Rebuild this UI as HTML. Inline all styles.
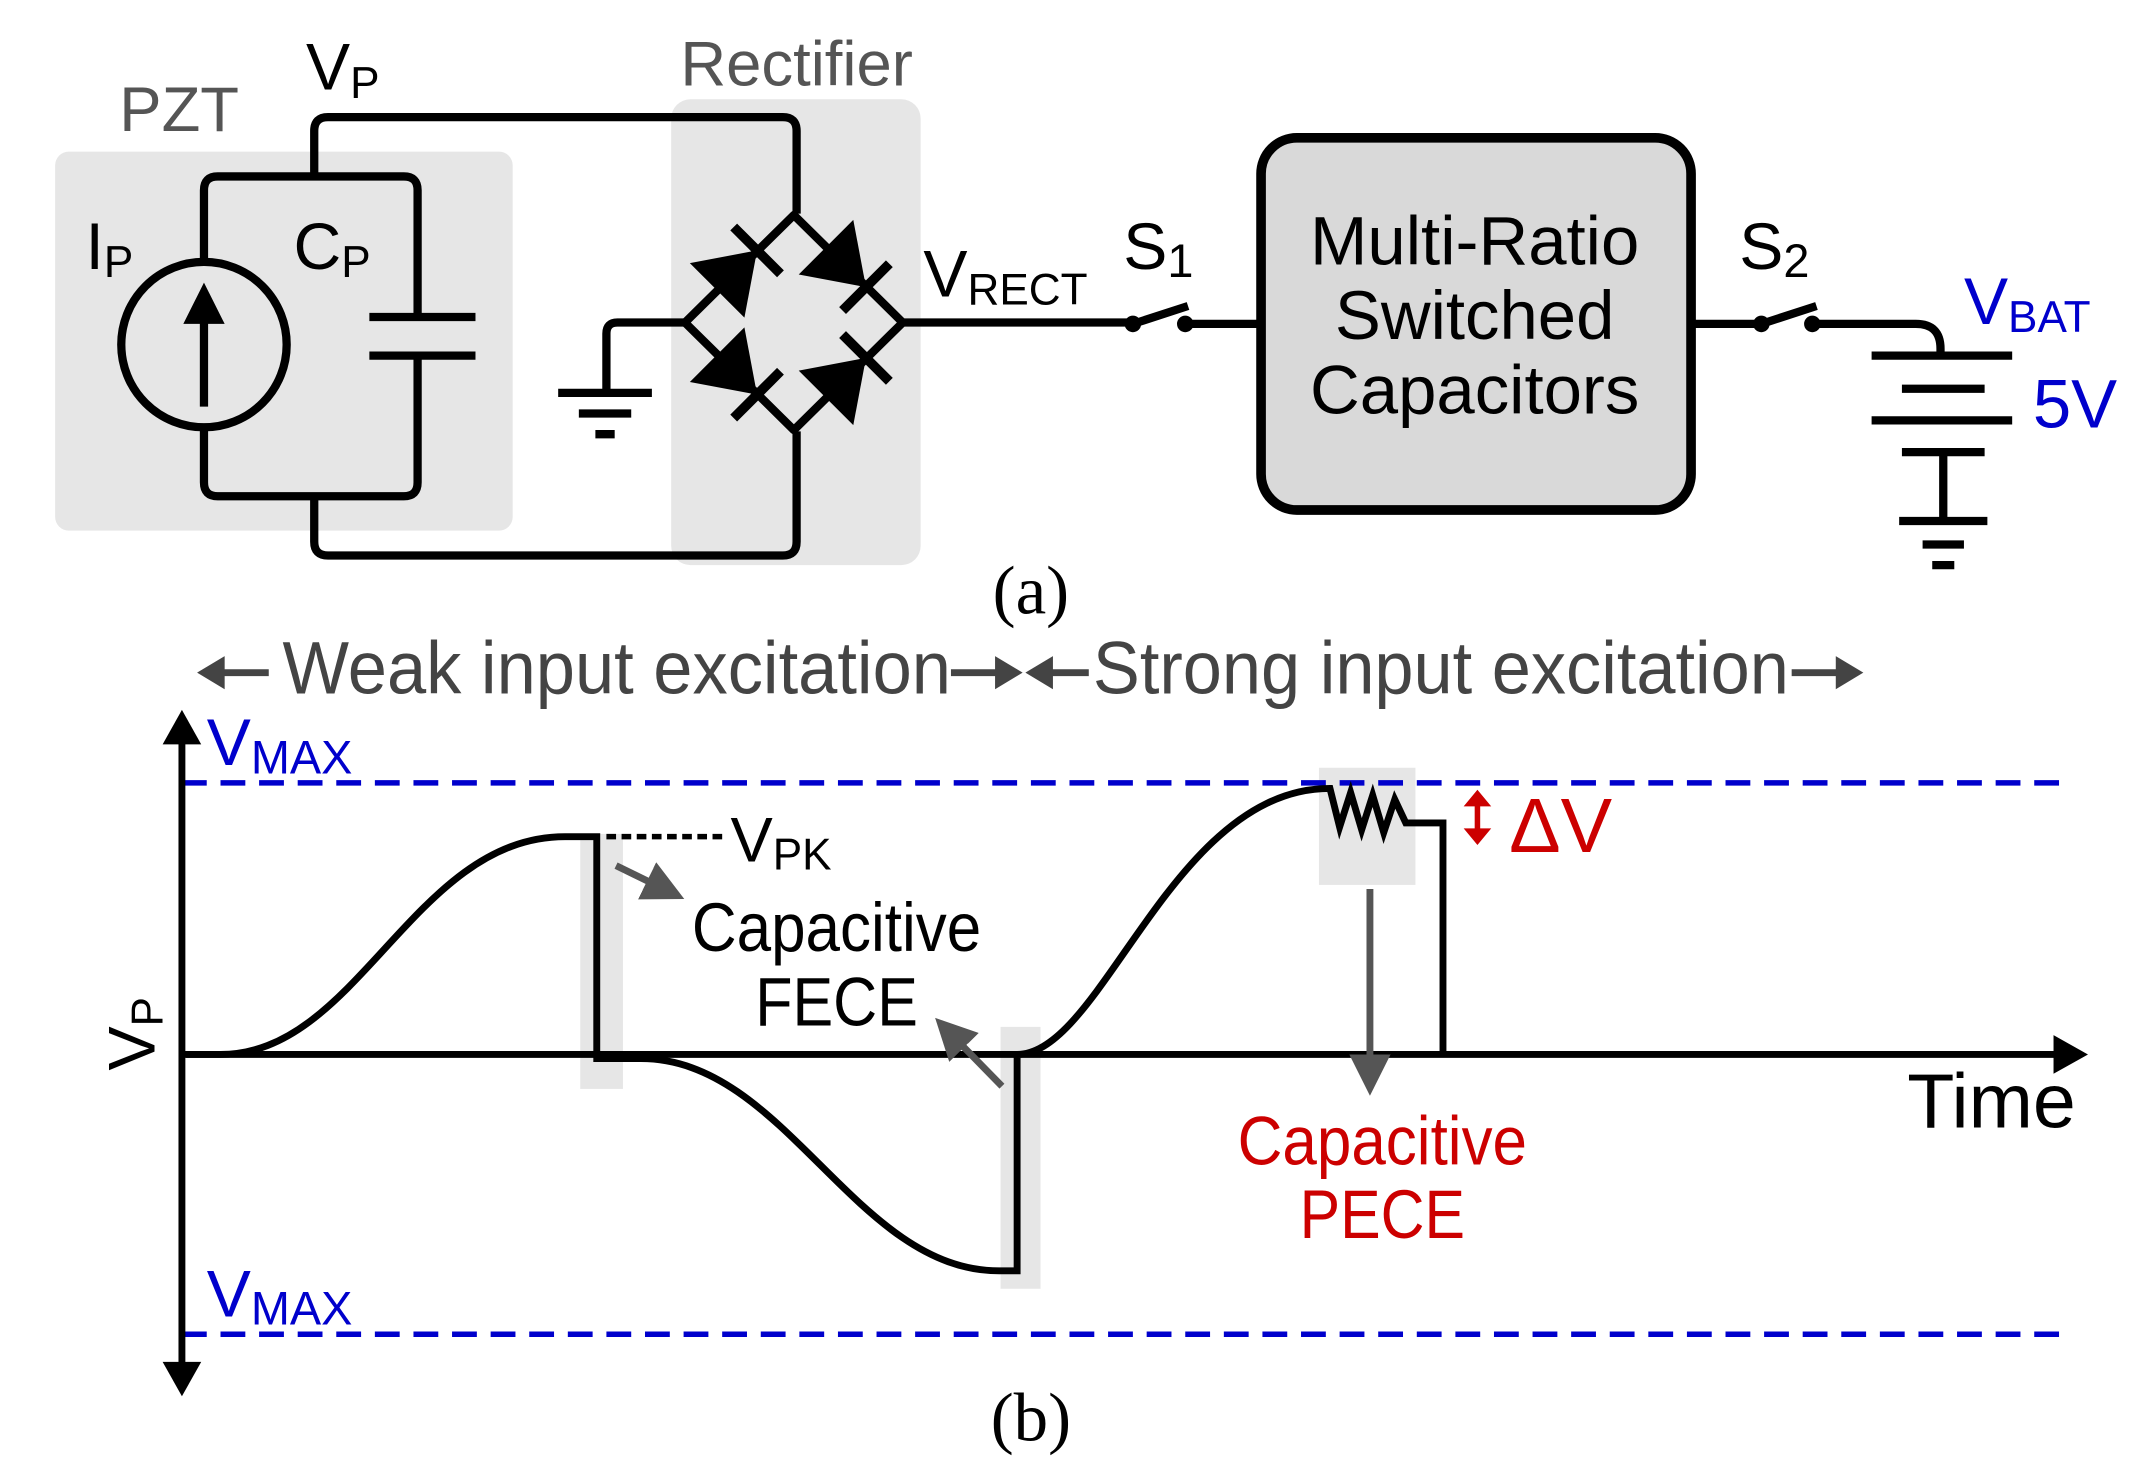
<!DOCTYPE html>
<html><head><style>html,body{margin:0;padding:0;background:#fff}svg{display:block}</style></head><body>
<svg width="2150" height="1479" viewBox="0 0 1560 1073" preserveAspectRatio="none" xmlns="http://www.w3.org/2000/svg" font-family="Liberation Sans, sans-serif">
<defs>
<marker id="ga" markerWidth="6" markerHeight="6" refX="5" refY="3" orient="auto" markerUnits="strokeWidth"><path d="M0,0 L6,3 L0,6 z" fill="#555"/></marker>
<g id="dio"><path d="M33,-28 L33,28 L74,0 Z" fill="#000"/><path d="M74,-24 V24" stroke="#000" stroke-width="7"/></g>
</defs>
<rect x="40" y="110" width="332" height="275" rx="10" fill="#e6e6e6"/>
<rect x="487" y="72" width="181" height="338" rx="14" fill="#e6e6e6"/>
<text x="130" y="95" font-size="46" fill="#555" text-anchor="middle">PZT</text>
<text x="578" y="62" font-size="46" fill="#555" text-anchor="middle">Rectifier</text>
<text x="222" y="65" font-size="48">V<tspan font-size="32" dy="6">P</tspan></text>
<text x="62" y="195" font-size="48">I<tspan font-size="32" dy="6">P</tspan></text>
<text x="213" y="195" font-size="48">C<tspan font-size="32" dy="6">P</tspan></text>
<g fill="none" stroke="#000" stroke-width="6" stroke-linejoin="round">
<path d="M228,128 V95 Q228,85 238,85 H568 Q578,85 578,95 V155"/>
<path d="M148,190 V138 Q148,128 158,128 H293 Q303,128 303,138 V230"/>
<path d="M303,258 V350 Q303,360 293,360 H158 Q148,360 148,350 V310"/>
<path d="M228,360 V393 Q228,403 238,403 H568 Q578,403 578,393 V313"/>
<path d="M268,230 H345 M268,258 H345"/>
<circle cx="148" cy="250" r="60"/>
<path d="M148,295 V215"/>
<path d="M576,156 L655,234 L576,312 L497,234 Z"/>
<path d="M497,234 H448 Q440,234 440,242 V283 M405,285 H473 M420,300 H458 M432,315 H446"/>
<path d="M655,234 H822 M822,235 L862,222 M860,235 H912"/>
<rect x="915" y="100" width="312" height="270" rx="26" fill="#d9d9d9" stroke-width="7"/>
<path d="M1227,235 H1278 M1278,235 L1318,222 M1315,235 H1390 Q1408,235 1408,253 V258"/>
<path d="M1358,258 H1460 M1380,282 H1440 M1358,305 H1460 M1380,328 H1440 M1410,328 V378 M1378,378 H1442 M1395,395 H1425 M1402,410 H1418"/>
</g>
<path d="M148,205 L133,235 H163 Z" fill="#000"/>
<use href="#dio" transform="translate(497,234) rotate(-45)"/>
<use href="#dio" transform="translate(576,156) rotate(45)"/>
<use href="#dio" transform="translate(497,234) rotate(45)"/>
<use href="#dio" transform="translate(576,312) rotate(-45)"/>
<g fill="#000">
<circle cx="822" cy="235" r="6"/><circle cx="860" cy="235" r="6"/>
<circle cx="1278" cy="235" r="6"/><circle cx="1315" cy="235" r="6"/>
</g>
<text x="815" y="195" font-size="48">S<tspan font-size="34" dy="6">1</tspan></text>
<text x="1262" y="195" font-size="48">S<tspan font-size="34" dy="6">2</tspan></text>
<text x="670" y="215" font-size="48">V<tspan font-size="32" dy="6">RECT</tspan></text>
<g font-size="50" text-anchor="middle"><text x="1070" y="192">Multi-Ratio</text><text x="1070" y="246">Switched</text><text x="1070" y="300">Capacitors</text></g>
<text x="1425" y="235" font-size="48" fill="#0000cc">V<tspan font-size="32" dy="6">BAT</tspan></text>
<text x="1475" y="310" font-size="50" fill="#0000cc">5V</text>
<text x="748" y="445" font-size="50" font-family="Liberation Serif, serif" text-anchor="middle">(a)</text>
<text x="748" y="1045" font-size="50" font-family="Liberation Serif, serif" text-anchor="middle">(b)</text>
<g font-family="Liberation Sans Narrow, Liberation Sans, sans-serif" fill="#444" font-size="54">
<text x="205" y="503" textLength="485" lengthAdjust="spacingAndGlyphs">Weak input excitation</text>
<text x="793" y="503" textLength="505" lengthAdjust="spacingAndGlyphs">Strong input excitation</text>
</g>
<g stroke="#444" stroke-width="5" fill="#444">
<path d="M148,488 H195"/><path d="M143,488 L163,476 V500 Z" stroke="none"/>
<path d="M690,488 H730"/><path d="M742,488 L722,476 V500 Z" stroke="none"/>
<path d="M760,488 H790"/><path d="M744,488 L764,476 V500 Z" stroke="none"/>
<path d="M1300,488 H1340"/><path d="M1352,488 L1332,476 V500 Z" stroke="none"/>
</g>
<rect x="421" y="605" width="31" height="185" fill="#e6e6e6"/>
<rect x="726" y="745" width="29" height="190" fill="#e6e6e6"/>
<rect x="957" y="557" width="70" height="85" fill="#e6e6e6"/>
<g stroke="#0000cc" stroke-width="4" stroke-dasharray="18,10"><path d="M132,568 H1500 M132,968 H1500"/></g>
<text x="150" y="555" font-size="48" fill="#0000cc">V<tspan font-size="34" dy="6">MAX</tspan></text>
<text x="150" y="955" font-size="48" fill="#0000cc">V<tspan font-size="34" dy="6">MAX</tspan></text>
<g stroke="#000" stroke-width="5" fill="none">
<path d="M132,530 V1000 M132,765 H1500"/>
<path d="M135,765 H160 C260,765 300,607 410,607 H433 V768 H465 C570,768 620,922 725,922 H738 V765 C800,765 850,572 965,572 L972,600 L980,575 L988,602 L996,577 L1004,604 L1012,580 L1020,597 H1047 V765"/>
<path d="M440,607 H525" stroke-dasharray="7,4" stroke-width="4"/>
</g>
<g fill="#000"><path d="M132,515 L118,540 H146 Z"/><path d="M132,1013 L118,988 H146 Z"/><path d="M1515,765 L1490,751 V779 Z"/></g>
<g stroke="#555" stroke-width="5" fill="none" marker-end="url(#ga)">
<path d="M447,628 L492,650"/><path d="M727,788 L682,742"/><path d="M994,645 V790"/>
</g>
<path d="M1072,580 V606" stroke="#cc0000" stroke-width="4"/>
<path d="M1072,573 L1062,585 H1082 Z M1072,613 L1062,601 H1082 Z" fill="#cc0000"/>
<text x="1095" y="618" font-size="56" fill="#cc0000">ΔV</text>
<text x="530" y="625" font-size="46">V<tspan font-size="32" dy="6">PK</tspan></text>
<g font-family="Liberation Sans Narrow, Liberation Sans, sans-serif" font-size="50" text-anchor="middle">
<text x="607" y="690" textLength="210" lengthAdjust="spacingAndGlyphs">Capacitive</text><text x="607" y="744" textLength="118" lengthAdjust="spacingAndGlyphs">FECE</text>
<text x="1003" y="845" fill="#cc0000" textLength="210" lengthAdjust="spacingAndGlyphs">Capacitive</text><text x="1003" y="898" fill="#cc0000" textLength="120" lengthAdjust="spacingAndGlyphs">PECE</text>
</g>
<text x="1445" y="818" font-size="56" text-anchor="middle">Time</text>
<text transform="translate(112,750) rotate(-90)" font-size="48" text-anchor="middle">V<tspan font-size="32" dy="6">P</tspan></text>
</svg>
</body></html>
